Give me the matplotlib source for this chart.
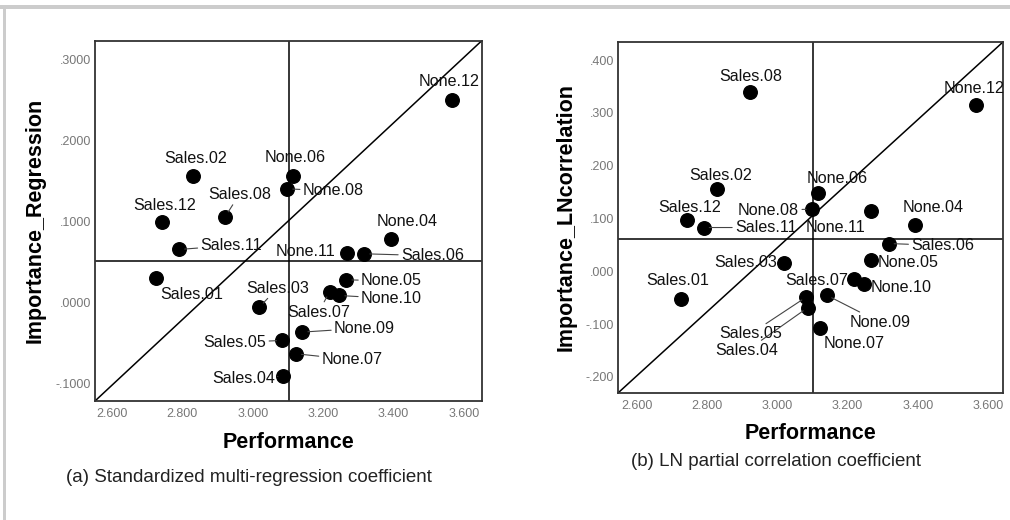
import matplotlib
matplotlib.use("Agg")
import matplotlib.pyplot as plt
from matplotlib.patches import Rectangle

plt.rcParams['font.family'] = ['Liberation Sans', 'DejaVu Sans']

# datos
etiquetas = ['Sales.01', 'Sales.02', 'Sales.03', 'Sales.04', 'Sales.05', 'Sales.06',
             'Sales.07', 'Sales.08', 'Sales.11', 'Sales.12',
             'None.04', 'None.05', 'None.06', 'None.07', 'None.08', 'None.09',
             'None.10', 'None.11', 'None.12']
performance = [2.725, 2.830, 3.019, 3.087, 3.083, 3.317, 3.218, 2.922, 2.791, 2.742,
               3.392, 3.266, 3.115, 3.123, 3.098, 3.141, 3.246, 3.267, 3.566]
regresion = [0.0304, 0.1561, -0.0053, -0.0903, -0.0464, 0.0604, 0.0132, 0.1063, 0.0657, 0.0994,
             0.0788, 0.0283, 0.1568, -0.0628, 0.1404, -0.0361, 0.0090, 0.0616, 0.2505]
ln_correl = [-0.0517, 0.155, 0.0157, -0.0688, -0.0487, 0.0525, -0.0138, 0.340, 0.0828, 0.0966,
             0.087, 0.0208, 0.148, -0.1067, 0.1175, -0.0455, -0.0246, 0.1137, 0.3145]

# lineas de corte
corte_perf = 3.102
corte_regr = 0.0514
corte_ln = 0.062

xticks = [2.6, 2.8, 3.0, 3.2, 3.4, 3.6]
xtick_labels = ['2.600', '2.800', '3.000', '3.200', '3.400', '3.600']
yticks_a = [-0.1, 0.0, 0.1, 0.2, 0.3]
ytick_labels_a = ['-.1000', '.0000', '.1000', '.2000', '.3000']
yticks_b = [-0.2, -0.1, 0.0, 0.1, 0.2, 0.3, 0.4]
ytick_labels_b = ['-.200', '-.100', '.000', '.100', '.200', '.300', '.400']

# desplazamiento de cada etiqueta en pixeles (dx, dy hacia abajo), True = linea guia
offs_a = {
    'None.12': (-3, -18, False), 'Sales.02': (3, -18, False), 'None.06': (2, -18, False),
    'None.08': (46, 2, True), 'Sales.08': (14, -22, True), 'Sales.12': (3, -17, False),
    'None.04': (16, -17, False), 'Sales.11': (52, -4, True), 'None.11': (-41, -1, False),
    'Sales.06': (68, 2, True), 'Sales.01': (36, 16, False), 'None.05': (45, 1, True),
    'Sales.07': (-11, 20, True), 'None.10': (52, 3, True), 'Sales.03': (18, -19, True),
    'None.09': (62, -4, True), 'Sales.05': (-47, 2, True), 'None.07': (56, 6, True),
    'Sales.04': (-40, 2, True),
}
offs_b = {
    'Sales.08': (1, -15, False), 'None.12': (-2, -17, False), 'Sales.02': (3, -14, False),
    'None.06': (20, -15, False), 'None.08': (-43, 1, True), 'Sales.12': (3, -13, False),
    'Sales.11': (62, 0, True), 'None.11': (-36, 16, False), 'None.04': (18, -18, False),
    'Sales.06': (54, 2, True), 'Sales.03': (-38, 0, False), 'None.05': (37, 2, False),
    'Sales.07': (-37, 2, False), 'None.10': (37, 3, False), 'Sales.01': (-3, -18, False),
    'Sales.05': (-56, 37, True), 'Sales.04': (-61, 43, True), 'None.09': (53, 27, True),
    'None.07': (34, 16, False),
}


def panel(ax, y, corte_y, yticks, ylabels, ylim, xlim, titulo_y, offs, xlab_x):
    ax.scatter(performance, y, s=95, c='black', zorder=3)
    ax.axvline(corte_perf, color='black', lw=1.1, zorder=2)
    ax.axhline(corte_y, color='black', lw=1.1, zorder=2)
    ax.plot([0, 1], [0, 1], transform=ax.transAxes, color='black', lw=1.1, zorder=2)
    for nombre, px, py in zip(etiquetas, performance, y):
        dx, dy, guia = offs[nombre]
        flecha = None
        if guia:
            flecha = dict(arrowstyle='-', color='#444444', lw=0.8, shrinkA=0, shrinkB=4)
        ax.annotate(nombre, (px, py), xytext=(dx, -dy), textcoords='offset pixels',
                    ha='center', va='center', fontsize=11.6, color='#111111',
                    arrowprops=flecha, zorder=4)
    ax.set_xlim(xlim)
    ax.set_ylim(ylim)
    ax.set_xticks(xticks)
    ax.set_xticklabels(xtick_labels)
    ax.set_yticks(yticks)
    ax.set_yticklabels(ylabels)
    ax.tick_params(length=0, labelsize=9, labelcolor='#777777')
    ax.tick_params(axis='x', pad=5)
    ax.tick_params(axis='y', pad=3)
    for sp in ax.spines.values():
        sp.set_color('#333333')
        sp.set_linewidth(1.3)
    ax.set_xlabel('Performance', fontsize=15.5, fontweight='bold')
    ax.xaxis.set_label_coords(0.5, -0.086)
    ax.set_ylabel(titulo_y, fontsize=15.5, fontweight='bold')
    ax.yaxis.set_label_coords(xlab_x, 0.5)


fig = plt.figure(figsize=(10.1, 5.2), dpi=100)

ax1 = fig.add_axes([95 / 1010, 1 - 401 / 520, 387 / 1010, 360.5 / 520])
panel(ax1, regresion, corte_regr, yticks_a, ytick_labels_a, (-0.121, 0.3232), (2.552, 3.651),
      'Importance_Regression', offs_a, -0.128)

ax2 = fig.add_axes([618.3 / 1010, 1 - 392.7 / 520, 385 / 1010, 351 / 520])
panel(ax2, ln_correl, corte_ln, yticks_b, ytick_labels_b, (-0.230, 0.4347), (2.548, 3.643),
      'Importance_LNcorrelation', offs_b, -0.107)

fig.text(248.8 / 1010, 1 - 477.3 / 520, '(a) Standardized multi-regression coefficient',
         ha='center', va='center', fontsize=13.5, color='#222222')
fig.text(776.3 / 1010, 1 - 461 / 520, '(b) LN partial correlation coefficient',
         ha='center', va='center', fontsize=13.5, color='#222222')

# marco gris de la figura
fig.add_artist(Rectangle((0, 1 - 9.3 / 520), 1, 4.6 / 520, transform=fig.transFigure,
                         color='#cccccc', lw=0))
fig.add_artist(Rectangle((3.3 / 1010, 0), 2.7 / 1010, 1 - 4.7 / 520, transform=fig.transFigure,
                         color='#cccccc', lw=0))

fig.savefig('out.png', dpi=100)
